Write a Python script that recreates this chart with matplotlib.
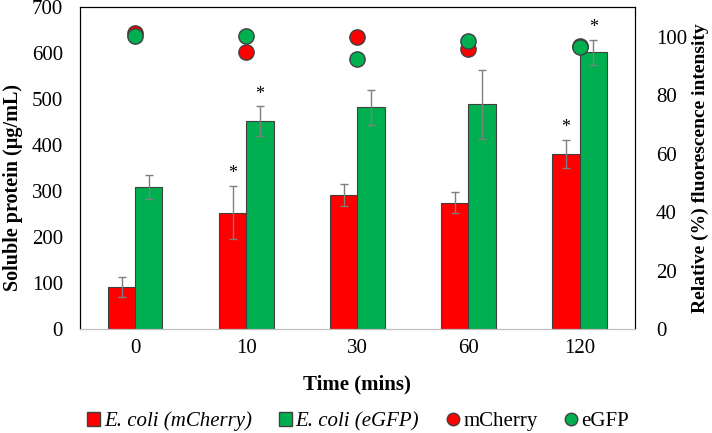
import matplotlib.pyplot as plt
import numpy as np
from matplotlib.lines import Line2D
from matplotlib.patches import Patch

plt.rcParams['font.family'] = ['Liberation Serif', 'DejaVu Serif']

times = ['0', '10', '30', '60', '120']
mcherry_protein = [92, 253, 291, 275, 380]
mcherry_err = [22, 58, 24, 23, 31]
egfp_protein = [309, 452, 482, 488, 601]
egfp_err = [26, 32, 38, 74, 28]
mcherry_fluor = [101.3, 94.8, 100.1, 95.8, 96.9]
egfp_fluor = [100.3, 100.5, 92.4, 98.7, 96.6]
# asterisks: (series, index)
stars = [('m', 1), ('g', 1), ('m', 4), ('g', 4)]

red = '#FF0000'
green = '#00B050'

fig = plt.figure(figsize=(7.12, 4.33), dpi=100)
ax = fig.add_axes([0.112, 0.240, 0.780, 0.744])
x = np.arange(len(times))
w = 0.245

ax.bar(x - w/2, mcherry_protein, w, color=red, edgecolor='#404040', linewidth=0.8, zorder=2)
ax.bar(x + w/2, egfp_protein, w, color=green, edgecolor='#404040', linewidth=0.8, zorder=2)
ax.errorbar(x - w/2, mcherry_protein, yerr=mcherry_err, fmt='none', ecolor='#7f7f7f',
            elinewidth=1, capsize=3, zorder=3)
ax.errorbar(x + w/2, egfp_protein, yerr=egfp_err, fmt='none', ecolor='#7f7f7f',
            elinewidth=1, capsize=3, zorder=3)

for s, i in stars:
    if s == 'm':
        xx, yy = x[i] - w/2, mcherry_protein[i] + mcherry_err[i]
    else:
        xx, yy = x[i] + w/2, egfp_protein[i] + egfp_err[i]
    ax.text(xx, yy + 8, '*', ha='center', va='bottom', fontsize=13)

ax.set_xlim(-0.5, len(times) - 0.5)
ax.set_ylim(0, 700)
ax.set_yticks(range(0, 701, 100))
ax.set_xticks(x)
ax.set_xticklabels(times)
ax.tick_params(axis='y', length=0, labelsize=15, pad=12)
ax.tick_params(axis='x', length=0, labelsize=15, pad=7)
ax.set_xlabel('Time (mins)', fontsize=15, fontweight='bold', labelpad=12)
ax.set_ylabel('Soluble protein (µg/mL)', fontsize=14.5, fontweight='bold')
ax.yaxis.set_label_coords(-0.103, 0.441)
ax.spines['bottom'].set_color('#bfbfbf')

ax2 = ax.twinx()
ax2.plot(x, mcherry_fluor, 'o', color=red, markeredgecolor='#404040', markersize=11, zorder=4)
ax2.plot(x, egfp_fluor, 'o', color=green, markeredgecolor='#404040', markersize=11, zorder=4)
ax2.set_ylim(0, 110.3)
ax2.set_yticks(range(0, 101, 20))
ax2.tick_params(axis='y', length=0, labelsize=15, pad=15)
ax2.set_ylabel('Relative (%) fluorescence intensity', fontsize=14, fontweight='bold', labelpad=3)
ax2.spines['bottom'].set_color('#bfbfbf')

handles = [
    Patch(facecolor=red, edgecolor='#404040', label='E. coli (mCherry)'),
    Patch(facecolor=green, edgecolor='#404040', label='E. coli (eGFP)'),
    Line2D([], [], marker='o', linestyle='none', color=red, markeredgecolor='#404040',
           markersize=9, label='mCherry'),
    Line2D([], [], marker='o', linestyle='none', color=green, markeredgecolor='#404040',
           markersize=9, label='eGFP'),
]
leg = fig.legend(handles=handles, loc='center', bbox_to_anchor=(0.503, 0.027), ncol=4,
                 frameon=False, fontsize=15, handlelength=0.6, handletextpad=0.2,
                 columnspacing=1.3)
for t in leg.get_texts()[:2]:
    t.set_fontstyle('italic')

fig.savefig('out.png', dpi=100)
